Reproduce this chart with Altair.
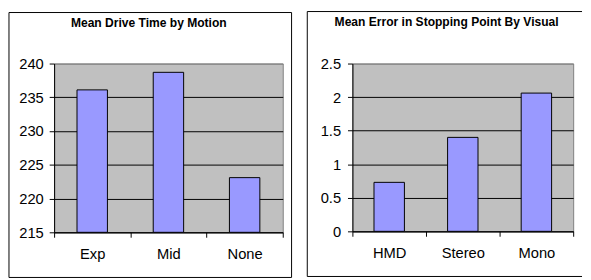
import altair as alt
import pandas as pd

motion = ["Exp", "Mid", "None"]
drive_time = [236.1, 238.7, 223.1]
drive_ticks = [215, 220, 225, 230, 235, 240]

visual = ["HMD", "Stereo", "Mono"]
stop_error = [0.73, 1.40, 2.06]
error_ticks = [0, 0.5, 1, 1.5, 2, 2.5]

title_left = "Mean Drive Time by Motion"
title_right = "Mean Error in Stopping Point By Visual"

FONT = "Liberation Sans"


def panel(cats, vals, ticks, fmt, title, w, h, label_pad, tx, ty, border):
    df = pd.DataFrame({"cat": cats, "val": vals})
    tdf = pd.DataFrame({"t": [title]})
    top = ticks[-1]
    bars = alt.Chart(df).mark_bar(
        width=31, fill="#9999FF", stroke="black", strokeWidth=1
    ).encode(
        x=alt.X(
            "cat:N", sort=cats, title=None,
            scale=alt.Scale(paddingInner=0, paddingOuter=0),
            axis=alt.Axis(
                labelAngle=0, labelFont=FONT, labelFontSize=15, labelColor="black",
                tickBand="extent", tickSize=5, tickColor="black", domainColor="black",
                labelPadding=10, grid=False,
            ),
        ),
        y=alt.Y(
            "val:Q", title=None,
            scale=alt.Scale(domain=[ticks[0], top], nice=False, zero=False),
            axis=alt.Axis(
                values=ticks, format=fmt, labelFont=FONT, labelFontSize=15,
                labelColor="black", tickSize=5, tickColor="black", domainColor="black",
                labelPadding=label_pad, grid=True,
                gridColor={"condition": {"test": f"datum.value == {top}", "value": "#808080"},
                           "value": "black"},
            ),
        ),
        y2=alt.datum(ticks[0]),
    )
    ttl = alt.Chart(tdf).mark_text(
        font=FONT, fontSize=12.3, fontWeight="bold", align="center",
        baseline="alphabetic", color="black",
    ).encode(text="t:N", x=alt.value(tx), y=alt.value(ty))
    layers = [bars, ttl]
    bx1, bx2, by1, by2, closed = border
    if closed:
        layers.insert(0, alt.Chart(tdf).mark_rect(
            fill="transparent", stroke="black", strokeWidth=1
        ).encode(x=alt.value(bx1), x2=alt.value(bx2), y=alt.value(by1), y2=alt.value(by2)))
    else:
        rl = alt.Chart(tdf).mark_rule(color="black", strokeWidth=1)
        layers.insert(0, rl.encode(x=alt.value(bx1), x2=alt.value(bx2), y=alt.value(by1)))
        layers.insert(0, rl.encode(x=alt.value(bx1), x2=alt.value(bx2), y=alt.value(by2)))
        layers.insert(0, rl.encode(x=alt.value(bx1), y=alt.value(by1), y2=alt.value(by2)))
    return alt.layer(*layers).properties(width=w, height=h)


left = panel(motion, drive_time, drive_ticks, "d", title_left, 233, 172, 6,
             96.5, -37, (-46, 242, -52, 218, True))
right = panel(visual, stop_error, error_ticks, "~g", title_right, 225, 171, 7,
              96, -38, (-46, 234, -53, 217, False))

chart = alt.hconcat(left, right, spacing=14).properties(
    padding=0, background="white"
).configure_view(fill="#C0C0C0", stroke="#808080", strokeWidth=1)

chart.save("out.html", embed_options={"renderer": "svg", "actions": False})
